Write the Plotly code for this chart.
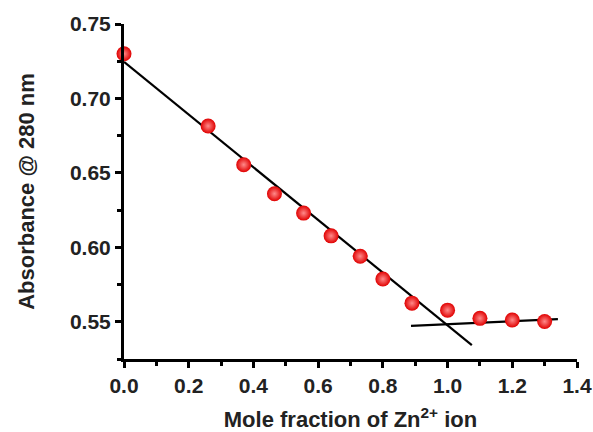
import plotly.graph_objects as go

mole_fraction = [0.0, 0.26, 0.37, 0.465, 0.555, 0.64, 0.73, 0.80, 0.89, 1.0, 1.1, 1.2, 1.3]
absorbance = [0.730, 0.6815, 0.6555, 0.636, 0.623, 0.6077, 0.594, 0.5787, 0.5625, 0.5578, 0.5523, 0.5512, 0.5502]

fit1_x = [0.0, 1.075]
fit1_y = [0.7246, 0.5343]
fit2_x = [0.887, 1.341]
fit2_y = [0.5473, 0.5518]

fig = go.Figure()
fig.add_trace(go.Scatter(x=fit1_x, y=fit1_y, mode="lines",
                         line=dict(color="black", width=2.2), cliponaxis=False, showlegend=False))
fig.add_trace(go.Scatter(x=fit2_x, y=fit2_y, mode="lines",
                         line=dict(color="black", width=2.2), cliponaxis=False, showlegend=False))
fig.add_trace(go.Scatter(x=mole_fraction, y=absorbance, mode="markers", cliponaxis=False,
                         marker=dict(size=15, color="#e00000",
                                     gradient=dict(type="radial", color="#ff8a8a"),
                                     line=dict(width=0)),
                         showlegend=False))

fam = "Liberation Sans, Arial, sans-serif"
axfont = dict(family=fam, size=21, color="#222222", weight="bold")
titfont = dict(family=fam, size=22, color="#222222", weight="bold")
fig.update_layout(
    width=593, height=432,
    margin=dict(l=124, r=16, t=24, b=73),
    plot_bgcolor="white", paper_bgcolor="white",
    xaxis=dict(range=[0, 1.4], dtick=0.2, tickformat=".1f", showgrid=False, zeroline=False,
               automargin=False,
               showline=True, linecolor="black", linewidth=3,
               ticks="outside", ticklen=6, tickwidth=3, tickcolor="black",
               minor=dict(dtick=0.1, ticks="outside", ticklen=4, tickwidth=3, tickcolor="black"),
               tickfont=axfont,
               title=dict(text="Mole fraction of Zn<sup>2+</sup> ion", font=titfont, standoff=22)),
    yaxis=dict(range=[0.525, 0.75], tick0=0.55, dtick=0.05, tickformat=".2f", showgrid=False, zeroline=False,
               automargin=False,
               showline=True, linecolor="black", linewidth=3,
               ticks="outside", ticklen=6, tickwidth=3, tickcolor="black",
               minor=dict(tick0=0.525, dtick=0.025, ticks="outside", ticklen=4, tickwidth=3, tickcolor="black"),
               tickfont=axfont,
               title=dict(text="Absorbance @ 280 nm", font=titfont, standoff=30)),
)
fig.write_html("out.html")
